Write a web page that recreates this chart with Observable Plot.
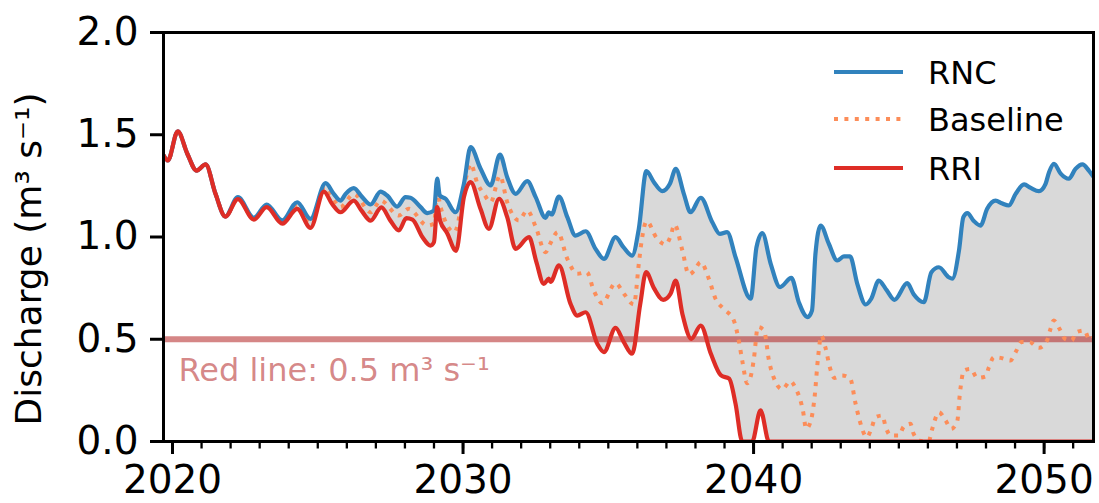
<!DOCTYPE html>
<html>
<head>
<meta charset="utf-8">
<script src="https://cdn.jsdelivr.net/npm/d3@7"></script>
<script src="https://cdn.jsdelivr.net/npm/@observablehq/plot@0.6"></script>
<style>
  body { margin: 0; background: #fff; font-family: "DejaVu Sans", sans-serif; }
  #wrap { position: relative; width: 1099px; height: 503px; overflow: hidden; }
  #legend { position: absolute; left: 0; top: 0; pointer-events: none; }
</style>
</head>
<body>
<div id="wrap"></div>
<script>
// ---- Data ----
const rncYears = [2019.69,2019.84,2020.18,2020.51,2020.83,2021.14,2021.48,2021.82,2022.25,2022.80,2023.24,2023.78,2024.29,2024.75,2025.27,2025.55,2025.78,2025.96,2026.24,2026.53,2026.82,2027.16,2027.39,2027.73,2028.02,2028.19,2028.54,2028.77,2029.00,2029.11,2029.20,2029.40,2029.74,2030.03,2030.26,2030.60,2030.95,2031.27,2031.52,2031.81,2032.21,2032.50,2032.84,2032.95,2033.05,2033.30,2033.59,2033.87,2034.22,2034.56,2034.85,2035.25,2035.52,2035.82,2036.05,2036.31,2036.57,2036.86,2037.12,2037.32,2037.60,2037.83,2038.18,2038.58,2038.84,2039.09,2039.38,2039.90,2040.10,2040.30,2040.59,2040.91,2041.30,2041.56,2041.86,2042.01,2042.13,2042.31,2042.59,2042.88,2043.11,2043.32,2043.57,2043.86,2044.05,2044.31,2044.58,2044.85,2045.29,2045.51,2045.86,2046.12,2046.38,2046.72,2046.84,2047.07,2047.22,2047.36,2047.57,2047.81,2048.04,2048.33,2048.54,2048.79,2049.02,2049.31,2049.54,2049.82,2050.05,2050.17,2050.34,2050.57,2050.85,2051.08,2051.32,2051.54,2051.70];
const rncValues = [1.40,1.374,1.517,1.407,1.325,1.355,1.211,1.100,1.195,1.094,1.159,1.081,1.170,1.089,1.263,1.211,1.178,1.211,1.239,1.195,1.159,1.222,1.203,1.149,1.195,1.192,1.146,1.117,1.13,1.285,1.203,1.187,1.121,1.26,1.439,1.335,1.252,1.403,1.292,1.211,1.273,1.195,1.094,1.121,1.11,1.198,1.097,1.007,1.028,0.942,0.893,0.999,0.95,0.909,1.04,1.322,1.268,1.224,1.26,1.333,1.211,1.121,1.192,1.072,1.015,1.024,0.901,0.698,0.950,1.019,0.869,0.755,0.800,0.68,0.608,0.64,0.918,1.056,0.967,0.885,0.905,0.905,0.771,0.670,0.698,0.787,0.74,0.693,0.774,0.72,0.681,0.828,0.852,0.803,0.796,0.934,1.097,1.117,1.08,1.056,1.138,1.178,1.165,1.154,1.211,1.257,1.24,1.224,1.260,1.317,1.358,1.31,1.285,1.333,1.355,1.325,1.295];

const baselineYears = [2019.69,2019.84,2020.18,2020.51,2020.83,2021.14,2021.48,2021.82,2022.25,2022.80,2023.24,2023.78,2024.29,2024.75,2025.24,2025.78,2026.24,2026.82,2027.16,2027.79,2028.13,2028.77,2029.00,2029.11,2029.22,2029.70,2030.14,2030.26,2030.50,2030.72,2030.95,2031.27,2031.52,2031.92,2032.21,2032.50,2032.84,2033.00,2033.26,2033.59,2033.93,2034.26,2034.50,2034.79,2035.25,2035.55,2035.88,2036.05,2036.15,2036.32,2036.66,2036.97,2037.14,2037.28,2037.55,2037.77,2037.94,2038.18,2038.46,2038.69,2038.97,2039.32,2039.49,2039.61,2039.78,2039.95,2040.01,2040.15,2040.36,2040.53,2040.76,2040.99,2041.26,2041.45,2041.70,2041.81,2041.98,2042.10,2042.22,2042.33,2042.47,2042.64,2042.78,2043.05,2043.33,2043.50,2043.65,2043.90,2044.07,2044.20,2044.43,2044.55,2044.72,2045.00,2045.17,2045.40,2045.51,2045.75,2046.03,2046.15,2046.38,2046.61,2046.80,2047.01,2047.10,2047.24,2047.47,2047.70,2047.98,2048.10,2048.27,2048.50,2048.84,2049.02,2049.22,2049.50,2049.82,2050.10,2050.22,2050.33,2050.53,2050.72,2050.95,2051.11,2051.39,2051.56,2051.70];
const baselineValues = [1.40,1.374,1.517,1.407,1.325,1.355,1.211,1.100,1.19,1.09,1.152,1.075,1.158,1.07,1.245,1.146,1.211,1.121,1.178,1.105,1.138,1.056,1.065,1.219,1.15,1.024,1.309,1.358,1.26,1.21,1.17,1.30,1.17,1.081,1.13,1.05,0.926,0.967,1.024,0.893,0.820,0.828,0.738,0.676,0.774,0.72,0.670,0.869,0.983,1.077,0.996,0.963,1.002,1.061,0.934,0.817,0.833,0.877,0.796,0.698,0.649,0.592,0.494,0.396,0.285,0.35,0.404,0.56,0.543,0.396,0.29,0.255,0.295,0.26,0.15,0.062,0.106,0.217,0.412,0.518,0.461,0.355,0.311,0.323,0.307,0.192,0.103,0.021,0.070,0.119,0.127,0.07,0.029,0.029,0.073,0.087,0.037,0.003,0.003,0.062,0.143,0.103,0.062,0.099,0.233,0.347,0.355,0.311,0.318,0.363,0.412,0.409,0.396,0.437,0.486,0.486,0.458,0.494,0.551,0.592,0.551,0.502,0.494,0.534,0.543,0.497,0.51];

const rriYears = [2019.69,2019.84,2020.18,2020.51,2020.83,2021.14,2021.48,2021.82,2022.25,2022.80,2023.24,2023.78,2024.29,2024.75,2025.21,2025.50,2025.78,2026.24,2026.50,2026.82,2027.19,2027.50,2027.79,2028.05,2028.26,2028.60,2028.88,2029.00,2029.11,2029.21,2029.45,2029.76,2030.03,2030.26,2030.60,2030.89,2031.24,2031.52,2031.81,2032.27,2032.52,2032.78,2032.95,2033.01,2033.30,2033.70,2033.93,2034.22,2034.62,2034.85,2035.25,2035.52,2035.82,2036.10,2036.30,2036.57,2036.89,2037.14,2037.32,2037.55,2037.86,2038.18,2038.53,2038.88,2039.16,2039.38,2039.61,2039.95,2040.24,2040.53,2051.70];
const rriValues = [1.40,1.374,1.517,1.407,1.325,1.355,1.211,1.100,1.185,1.085,1.146,1.065,1.138,1.045,1.222,1.16,1.121,1.178,1.13,1.08,1.145,1.08,1.032,1.092,1.085,1.0,0.958,0.975,1.146,1.08,1.02,0.932,1.195,1.268,1.138,1.040,1.187,1.097,0.942,0.999,0.88,0.771,0.796,0.78,0.861,0.673,0.616,0.632,0.478,0.437,0.556,0.49,0.429,0.673,0.828,0.75,0.693,0.722,0.787,0.624,0.502,0.567,0.429,0.323,0.307,0.184,0.0,0.0,0.152,0.0,0.0];

const seriesNames = ["RNC", "Baseline", "RRI"];
const seriesColors = ["#3182bd", "#fc8d59", "#de2d26"];
const redLineValue = 0.5;
const redLineLabel = "Red line: 0.5 m³ s⁻¹";
const yLabel = "Discharge (m³ s⁻¹)";
const xMajorTicks = [2020, 2030, 2040, 2050];
const xMinorTicks = d3.range(2020, 2052);
const yTicks = [0, 0.5, 1.0, 1.5, 2.0];
const xDomain = [2019.69, 2051.70];
const yDomain = [0, 2];

// ---- Build tables ----
const rnc = rncYears.map((x, i) => ({x, y: rncValues[i]}));
const baseline = baselineYears.map((x, i) => ({x, y: baselineValues[i]}));
const rri = rriYears.map((x, i) => ({x, y: rriValues[i]}));

const curve = "monotone-x";

const chart = Plot.plot({
  width: 1099,
  height: 503,
  marginLeft: 163,
  marginRight: 6,
  marginTop: 32,
  marginBottom: 62,
  style: {fontFamily: "DejaVu Sans", background: "white", color: "black"},
  x: {domain: xDomain},
  y: {domain: yDomain},
  marks: [
    // shaded band between RNC and RRI
    Plot.areaY(rnc, {x: "x", y: "y", fill: "#d9d9d9", curve, clip: true}),
    Plot.areaY(rri, {x: "x", y: "y", fill: "white", curve, clip: true}),
    // red line threshold
    Plot.ruleY([redLineValue], {stroke: "#b22222", strokeOpacity: 0.55, strokeWidth: 6}),
    Plot.text([redLineValue], {y: d => d, frameAnchor: "left", text: () => redLineLabel, dx: 15, dy: 31,
      textAnchor: "start", fontSize: 32, fill: "#b22222", fillOpacity: 0.55}),
    // series
    Plot.line(baseline, {x: "x", y: "y", stroke: seriesColors[1], strokeWidth: 4, strokeDasharray: "4,6.4",
      strokeLinecap: "butt", curve, clip: true}),
    Plot.line(rnc, {x: "x", y: "y", stroke: seriesColors[0], strokeWidth: 4.2, curve, clip: true}),
    Plot.line(rri, {x: "x", y: "y", stroke: seriesColors[2], strokeWidth: 4.2, curve, clip: true}),
    // axes
    Plot.axisX({ticks: xMinorTicks, tickSize: 7.5, tickFormat: () => "", strokeWidth: 2.3, label: null}),
    Plot.axisX({ticks: xMajorTicks, tickSize: 13, tickPadding: 11, tickFormat: "d", fontSize: 39, strokeWidth: 3, label: null}),
    Plot.axisY({ticks: yTicks, tickSize: 13, tickPadding: 12, tickFormat: d => d.toFixed(1), fontSize: 39, strokeWidth: 3, label: null}),
    Plot.text([yLabel], {frameAnchor: "left", textAnchor: "middle", rotate: -90, dx: -134, dy: 22, text: d => d, fontSize: 36, fill: "black"}),
    Plot.frame({stroke: "black", strokeWidth: 3})
  ]
});

const wrap = document.getElementById("wrap");
wrap.appendChild(chart);

// ---- Legend overlay (inside the plot, top right) ----
const ns = "http://www.w3.org/2000/svg";
const leg = document.createElementNS(ns, "svg");
leg.setAttribute("id", "legend");
leg.setAttribute("width", 1099);
leg.setAttribute("height", 503);
const legendLineY = [72, 119, 168];
seriesNames.forEach((name, i) => {
  const ln = document.createElementNS(ns, "line");
  ln.setAttribute("x1", 834); ln.setAttribute("x2", 903);
  ln.setAttribute("y1", legendLineY[i]); ln.setAttribute("y2", legendLineY[i]);
  ln.setAttribute("stroke", seriesColors[i]);
  ln.setAttribute("stroke-width", i === 1 ? 4 : 4.2);
  if (i === 1) { ln.setAttribute("stroke-dasharray", "4,6.4"); }
  leg.appendChild(ln);
  const t = document.createElementNS(ns, "text");
  t.setAttribute("x", 928);
  t.setAttribute("y", legendLineY[i] + 11.5);
  t.setAttribute("font-size", 32);
  t.setAttribute("font-family", "DejaVu Sans");
  t.setAttribute("fill", "black");
  t.textContent = name;
  leg.appendChild(t);
});
wrap.appendChild(leg);
</script>
</body>
</html>
